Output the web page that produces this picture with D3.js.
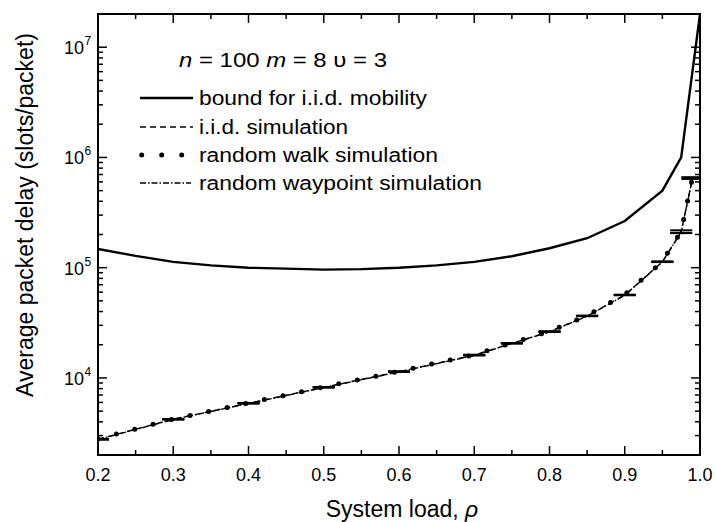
<!DOCTYPE html>
<html><head><meta charset="utf-8">
<script src="https://cdn.jsdelivr.net/npm/d3@7"></script>
<style>
body{margin:0;background:#fff;}
svg{display:block;font-family:"Liberation Sans",Arial,sans-serif;}
</style></head>
<body><svg id="c" width="715" height="522"></svg>
<script>
// ---- data ----
const boundX = [0.2,0.25,0.3,0.35,0.4,0.45,0.5,0.55,0.6,0.65,0.7,0.75,0.8,0.85,0.9,0.95,0.975,1.0];
const boundY = [148000,128000,113000,105000,100000,98000,96000,97000,100000,105000,113000,127000,150000,185000,265000,500000,1000000,20000000];
const simX = [0.2,0.3,0.4,0.5,0.6,0.7,0.75,0.8,0.85,0.9,0.95,0.975,0.99];
const iidY = [2780,4220,5890,8220,11400,16100,20600,26300,36500,56500,113000,212000,650000];
const rwY  = [2800,4240,5930,8280,11480,16250,20750,26500,36800,56900,114000,214000,655000];
const rwpY = [2760,4200,5860,8180,11340,16000,20500,26150,36300,56200,112500,210000,645000];
const simErr = [30,45,60,80,110,150,190,240,330,520,1100,6000,12000];
const xTicks = [0.2,0.3,0.4,0.5,0.6,0.7,0.8,0.9,1.0];
const yTickExp = [4,5,6,7];
const legendLabels = ["bound for i.i.d. mobility","i.i.d. simulation","random walk simulation","random waypoint simulation"];

const svg = d3.select("#c");
const L=98,R=700,T=14,B=455;
const x = d3.scaleLinear().domain([0.2,1.0]).range([L,R]);
const y = d3.scaleLog().domain([2000,2e7]).range([B,T]);

svg.append("defs").append("clipPath").attr("id","clip")
  .append("rect").attr("x",L).attr("y",T).attr("width",R-L).attr("height",B-T);

const plot = svg.append("g").attr("clip-path","url(#clip)");
const line = d3.line().x(d=>x(d[0])).y(d=>y(d[1]));

// bound
plot.append("path").datum(boundX.map((v,i)=>[v,boundY[i]]))
  .attr("d",line).attr("fill","none").attr("stroke","#000").attr("stroke-width",2.4);

const sims = [
  {vals:iidY, dash:"6,4", w:1.4, cap:"butt"},
  {vals:rwY, dash:"0,19", w:5, cap:"round"},
  {vals:rwpY, dash:"6,2,1.5,2", w:1.4, cap:"butt"}
];
sims.forEach(s=>{
  plot.append("path").datum(simX.map((v,i)=>[v,s.vals[i]]))
    .attr("d",line).attr("fill","none").attr("stroke","#000")
    .attr("stroke-width",s.w).attr("stroke-dasharray",s.dash).attr("stroke-linecap",s.cap);
  simX.forEach((v,i)=>{
    const cx=x(v), lo=y(s.vals[i]-simErr[i]), hi=y(s.vals[i]+simErr[i]);
    plot.append("line").attr("x1",cx).attr("x2",cx).attr("y1",lo).attr("y2",hi).attr("stroke","#000").attr("stroke-width",1.2);
    [lo,hi].forEach(yy=>plot.append("line").attr("x1",cx-11).attr("x2",cx+11).attr("y1",yy).attr("y2",yy).attr("stroke","#000").attr("stroke-width",1.1));
  });
});

// axes
const ax = svg.append("g");
const xAll = d3.range(0.2,1.0001,0.05).map(v=>+v.toFixed(2));
xAll.forEach(v=>{
  const major = xTicks.some(t=>Math.abs(t-v)<1e-6);
  const len = major?9:5;
  ax.append("line").attr("x1",x(v)).attr("x2",x(v)).attr("y1",B).attr("y2",B-len).attr("stroke","#000").attr("stroke-width",1.5);
  ax.append("line").attr("x1",x(v)).attr("x2",x(v)).attr("y1",T).attr("y2",T+len).attr("stroke","#000").attr("stroke-width",1.5);
});
xTicks.forEach(v=>{
  ax.append("text").attr("x",x(v)).attr("y",481).attr("text-anchor","middle")
    .attr("font-size",18).text(d3.format(".1f")(v));
});
const yMinor=[];
for(let e=3;e<=7;e++) for(let k=1;k<=9;k++){const v=k*Math.pow(10,e); if(v>=2000 && v<=2e7) yMinor.push([v,k===1]);}
yMinor.forEach(([v,major])=>{
  const len = major?9:5;
  ax.append("line").attr("x1",L).attr("x2",L+len).attr("y1",y(v)).attr("y2",y(v)).attr("stroke","#000").attr("stroke-width",1.5);
  ax.append("line").attr("x1",R).attr("x2",R-len).attr("y1",y(v)).attr("y2",y(v)).attr("stroke","#000").attr("stroke-width",1.5);
});
yTickExp.forEach(e=>{
  ax.append("text").attr("x",84).attr("y",y(Math.pow(10,e))+7).attr("text-anchor","end").attr("font-size",18).text("10");
  ax.append("text").attr("x",84.5).attr("y",y(Math.pow(10,e))-2).attr("font-size",12).text(e);
});
svg.append("rect").attr("x",L).attr("y",T).attr("width",R-L).attr("height",B-T)
  .attr("fill","none").attr("stroke","#000").attr("stroke-width",2);

// labels
svg.append("text").attr("x",402).attr("y",517).attr("text-anchor","middle").attr("font-size",23)
  .html('System load, <tspan font-style="italic">ρ</tspan>');
svg.append("text").attr("transform","translate(33,215) rotate(-90)").attr("text-anchor","middle")
  .attr("font-size",23).text("Average packet delay (slots/packet)");

// title
svg.append("text").attr("x",179).attr("y",67).attr("font-size",21)
  .attr("textLength",208).attr("lengthAdjust","spacingAndGlyphs")
  .html('<tspan font-style="italic">n</tspan> = 100 <tspan font-style="italic">m</tspan> = 8 υ = 3');

// legend
const rows=[98,127,155,183];
const legendW=[228,149,239,283];
const lg = svg.append("g");
lg.append("line").attr("x1",140).attr("x2",193).attr("y1",rows[0]).attr("y2",rows[0]).attr("stroke","#000").attr("stroke-width",2.4);
lg.append("line").attr("x1",140).attr("x2",193).attr("y1",rows[1]).attr("y2",rows[1]).attr("stroke","#000").attr("stroke-width",1.3).attr("stroke-dasharray","6,4");
lg.append("line").attr("x1",141.7).attr("x2",182).attr("y1",rows[2]).attr("y2",rows[2]).attr("stroke","#000").attr("stroke-width",5).attr("stroke-dasharray","0,20").attr("stroke-linecap","round");
lg.append("line").attr("x1",140).attr("x2",191).attr("y1",rows[3]).attr("y2",rows[3]).attr("stroke","#000").attr("stroke-width",1.3).attr("stroke-dasharray","6,2,1.5,2");
legendLabels.forEach((s,i)=>{
  lg.append("text").attr("x",199).attr("y",rows[i]+6.5).attr("font-size",20)
    .attr("textLength",legendW[i]).attr("lengthAdjust","spacingAndGlyphs").text(s);
});
</script></body></html>
